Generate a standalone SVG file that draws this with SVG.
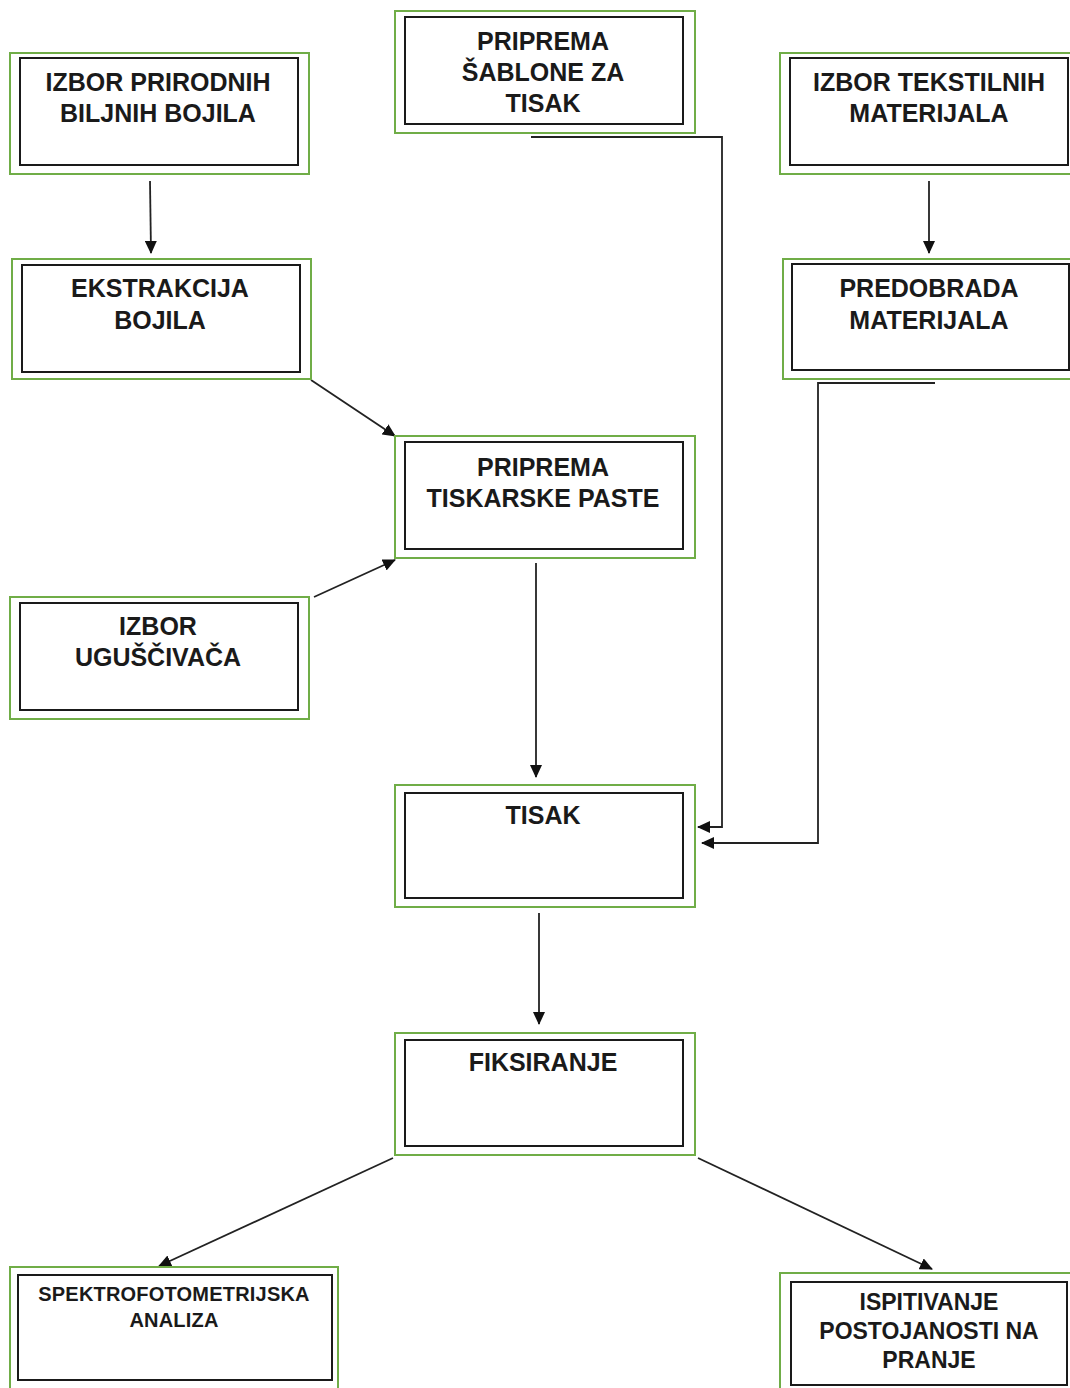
<svg xmlns="http://www.w3.org/2000/svg" width="1070" height="1388" viewBox="0 0 1070 1388">
<style>
.outer{fill:none;stroke:#70ad47;stroke-width:2}
.inner{fill:#fff;stroke:#1a1a1a;stroke-width:2}
.t{font-family:"Liberation Sans",Arial,sans-serif;font-weight:bold;font-size:25px;fill:#1a1a1a;text-anchor:middle}
.s{font-size:20px;letter-spacing:0.2px}
.m{font-size:23px}
.c{fill:none;stroke:#222;stroke-width:1.8}
</style>
<defs>
<marker id="ah" markerWidth="13" markerHeight="12" refX="12" refY="6" orient="auto" markerUnits="userSpaceOnUse">
<path d="M0,0 L13,6 L0,12 Z" fill="#111"/>
</marker>
</defs>
<rect width="1070" height="1388" fill="#fff"/>
<g id="connectors">
<line class="c" x1="150" y1="181" x2="151" y2="253" marker-end="url(#ah)"/>
<line class="c" x1="929" y1="181" x2="929" y2="253" marker-end="url(#ah)"/>
<line class="c" x1="311" y1="380" x2="395" y2="436" marker-end="url(#ah)"/>
<line class="c" x1="314" y1="597" x2="395" y2="560" marker-end="url(#ah)"/>
<line class="c" x1="536" y1="563" x2="536" y2="777" marker-end="url(#ah)"/>
<polyline class="c" points="531,137 722,137 722,827 698,827" marker-end="url(#ah)"/>
<polyline class="c" points="935,383 818,383 818,843 702,843" marker-end="url(#ah)"/>
<line class="c" x1="539" y1="913" x2="539" y2="1024" marker-end="url(#ah)"/>
<line class="c" x1="393" y1="1158" x2="159" y2="1266" marker-end="url(#ah)"/>
<line class="c" x1="698" y1="1158" x2="932" y2="1269" marker-end="url(#ah)"/>
</g>
<g id="n1">
<rect class="outer" x="10" y="53" width="299" height="121"/>
<rect class="inner" x="20" y="58" width="278" height="107"/>
<text class="t" x="158" y="91">IZBOR PRIRODNIH</text>
<text class="t" x="158" y="122">BILJNIH BOJILA</text>
</g>
<g id="n2">
<rect class="outer" x="395" y="11" width="300" height="122"/>
<rect class="inner" x="405" y="17" width="278" height="107"/>
<text class="t" x="543" y="50">PRIPREMA</text>
<text class="t" x="543" y="81">ŠABLONE ZA</text>
<text class="t" x="543" y="112">TISAK</text>
</g>
<g id="n3">
<rect class="outer" x="780" y="53" width="300" height="121"/>
<rect class="inner" x="790" y="58" width="278" height="107"/>
<text class="t" x="929" y="91">IZBOR TEKSTILNIH</text>
<text class="t" x="929" y="122">MATERIJALA</text>
</g>
<g id="n4">
<rect class="outer" x="12" y="259" width="299" height="120"/>
<rect class="inner" x="22" y="265" width="278" height="107"/>
<text class="t" x="160" y="297">EKSTRAKCIJA</text>
<text class="t" x="160" y="329">BOJILA</text>
</g>
<g id="n5">
<rect class="outer" x="783" y="259" width="300" height="120"/>
<rect class="inner" x="792" y="264" width="277" height="106"/>
<text class="t" x="929" y="297">PREDOBRADA</text>
<text class="t" x="929" y="329">MATERIJALA</text>
</g>
<g id="n6">
<rect class="outer" x="395" y="436" width="300" height="122"/>
<rect class="inner" x="405" y="442" width="278" height="107"/>
<text class="t" x="543" y="476">PRIPREMA</text>
<text class="t" x="543" y="507">TISKARSKE PASTE</text>
</g>
<g id="n7">
<rect class="outer" x="10" y="597" width="299" height="122"/>
<rect class="inner" x="20" y="603" width="278" height="107"/>
<text class="t" x="158" y="635">IZBOR</text>
<text class="t" x="158" y="666">UGUŠČIVAČA</text>
</g>
<g id="n8">
<rect class="outer" x="395" y="785" width="300" height="122"/>
<rect class="inner" x="405" y="793" width="278" height="105"/>
<text class="t" x="543" y="824">TISAK</text>
</g>
<g id="n9">
<rect class="outer" x="395" y="1033" width="300" height="122"/>
<rect class="inner" x="405" y="1040" width="278" height="106"/>
<text class="t" x="543" y="1071">FIKSIRANJE</text>
</g>
<g id="n10">
<rect class="outer" x="10" y="1267" width="328" height="130"/>
<rect class="inner" x="18" y="1275" width="314" height="105"/>
<text class="t s" x="174" y="1301">SPEKTROFOTOMETRIJSKA</text>
<text class="t s" x="174" y="1327">ANALIZA</text>
</g>
<g id="n11">
<rect class="outer" x="780" y="1273" width="300" height="130"/>
<rect class="inner" x="791" y="1282" width="276" height="103"/>
<text class="t m" x="929" y="1310">ISPITIVANJE</text>
<text class="t m" x="929" y="1339">POSTOJANOSTI NA</text>
<text class="t m" x="929" y="1368">PRANJE</text>
</g>
</svg>
